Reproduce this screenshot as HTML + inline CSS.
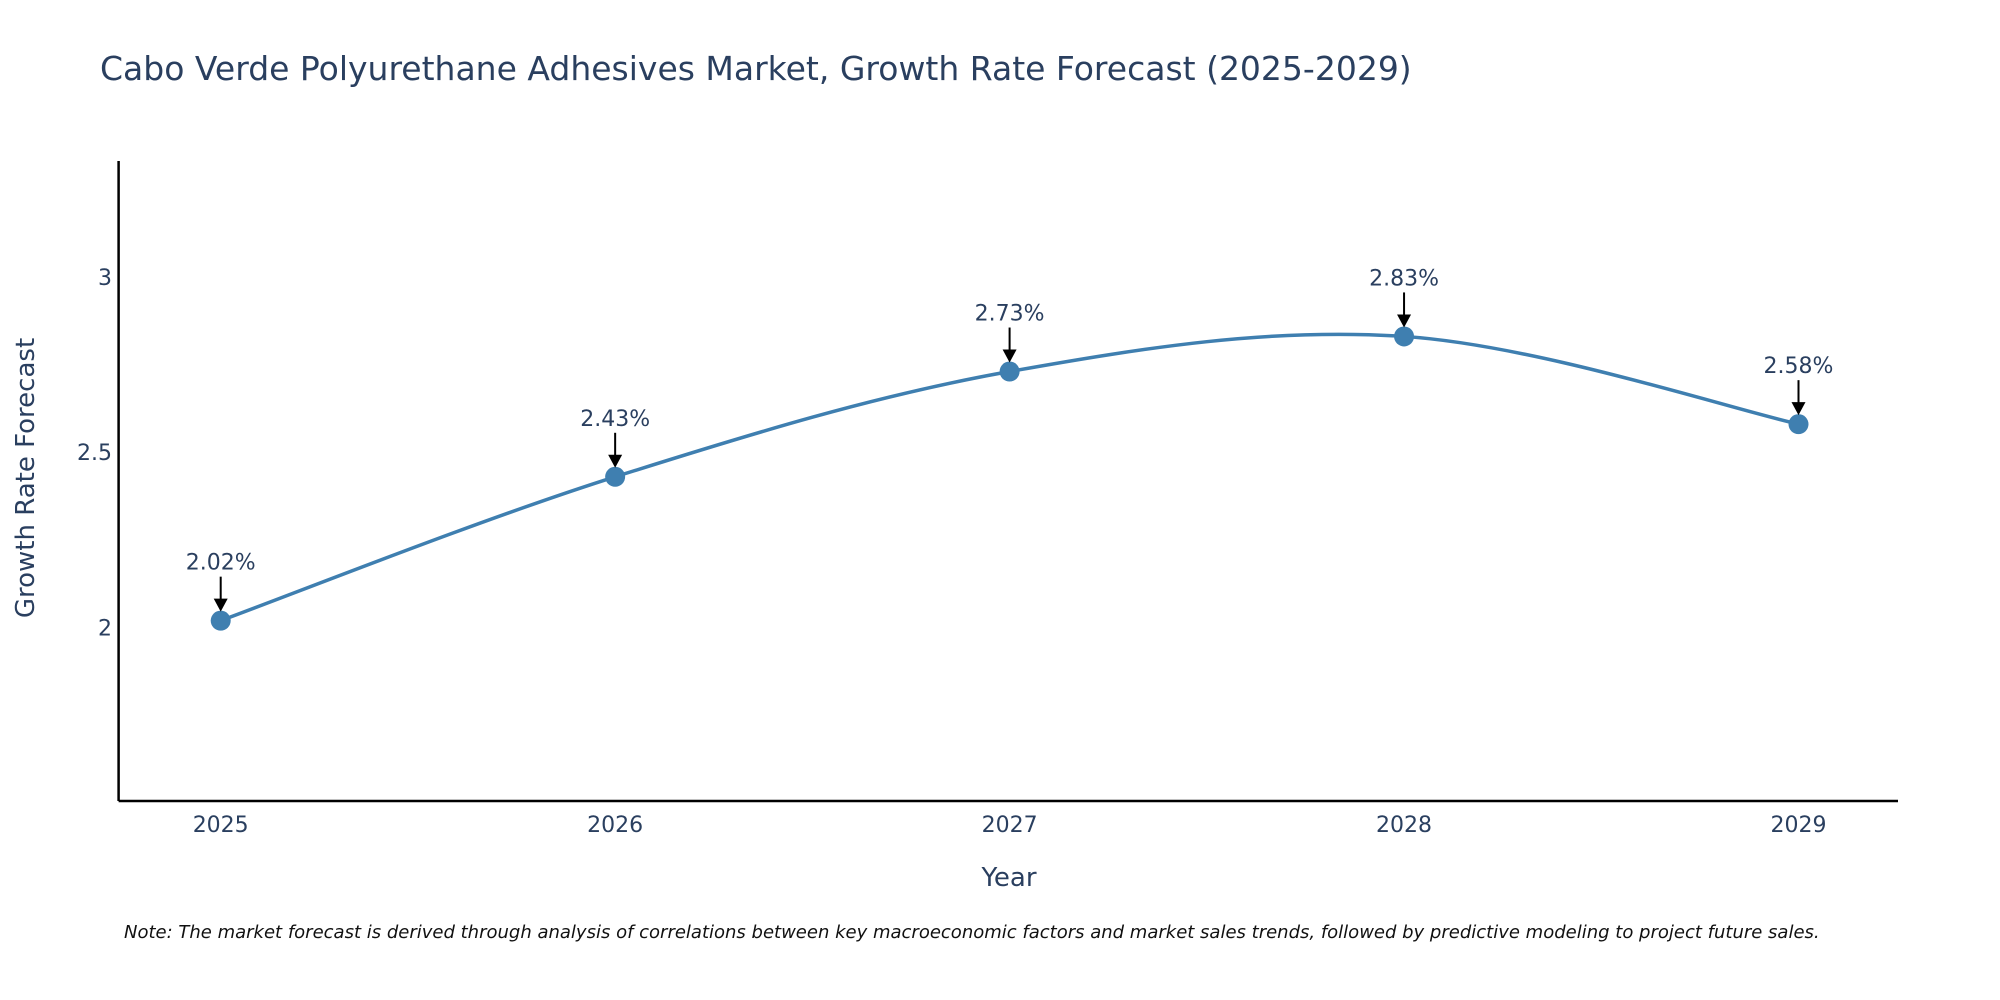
<!DOCTYPE html>
<html><head><meta charset="utf-8"><style>
body{margin:0;background:#fff;}
svg{display:block;font-family:"DejaVu Sans","Liberation Sans",sans-serif;}
</style></head><body>
<svg id="chart" width="2000" height="1000" viewBox="0 0 2000 1000">
<text x="100" y="80" font-size="33" fill="#2a3f5f">Cabo Verde Polyurethane Adhesives Market, Growth Rate Forecast (2025-2029)</text>
<g id="axes"></g>
<g id="plot"></g>
<text x="1009" y="886" font-size="26" fill="#2a3f5f" text-anchor="middle">Year</text>
<text transform="translate(34,478) rotate(-90)" font-size="26" fill="#2a3f5f" text-anchor="middle">Growth Rate Forecast</text>
<text x="124" y="938" font-size="18" font-style="italic" fill="#111">Note: The market forecast is derived through analysis of correlations between key macroeconomic factors and market sales trends, followed by predictive modeling to project future sales.</text>
</svg>
<script>
const years=["2025","2026","2027","2028","2029"];
const rates=[2.02,2.43,2.73,2.83,2.58];
const yTicks=[2,2.5,3];
const NS="http://www.w3.org/2000/svg";
const L=118.6,R=1898,T=161,B=801,X0=220.7,X1=1798.5,YMIN=1.506,YMAX=3.33;
const xs=i=>X0+(X1-X0)*i/(years.length-1);
const ys=v=>B-(v-YMIN)/(YMAX-YMIN)*(B-T);
function mk(tag,attrs,parent){const e=document.createElementNS(NS,tag);for(const k in attrs)e.setAttribute(k,attrs[k]);parent.appendChild(e);return e;}
const axes=document.getElementById('axes'),plot=document.getElementById('plot');
let a=mk('line',{x1:L,y1:T,x2:L,y2:B,stroke:'#000','stroke-width':2.5},axes);


a=mk('line',{x1:L,y1:B,x2:R,y2:B,stroke:'#000','stroke-width':2.5},axes);


yTicks.forEach(v=>{const t=mk('text',{x:112,y:ys(v)+8,'font-size':22,fill:'#2a3f5f','text-anchor':'end'},axes);t.textContent=String(v);

});
years.forEach((y,i)=>{const t=mk('text',{x:xs(i),y:832,'font-size':22,fill:'#2a3f5f','text-anchor':'middle'},axes);t.textContent=y;

});
const pts=rates.map((v,i)=>[xs(i),ys(v)]);
let d='M'+pts[0][0]+','+pts[0][1];const s=0.17;
for(let i=0;i<pts.length-1;i++){const p0=pts[Math.max(0,i-1)],p1=pts[i],p2=pts[i+1],p3=pts[Math.min(pts.length-1,i+2)];
const c1=[p1[0]+(p2[0]-p0[0])*s,p1[1]+(p2[1]-p0[1])*s],c2=[p2[0]-(p3[0]-p1[0])*s,p2[1]-(p3[1]-p1[1])*s];
d+=` C${c1[0]},${c1[1]} ${c2[0]},${c2[1]} ${p2[0]},${p2[1]}`;}
const line=mk('path',{d:d,fill:'none',stroke:'#3f7fb0','stroke-width':3.5},plot);


pts.forEach((p,i)=>{const c=mk('circle',{cx:p[0],cy:p[1],r:10,fill:'#3f7fb0'},plot);


const ar=mk('line',{x1:p[0],y1:p[1]-44,x2:p[0],y2:p[1]-20,stroke:'#000','stroke-width':2},plot);


const hd=mk('polygon',{points:`${p[0]-7},${p[1]-22} ${p[0]+7},${p[1]-22} ${p[0]},${p[1]-9}`,fill:'#000'},plot);


const t=mk('text',{x:p[0],y:p[1]-51,'font-size':22,fill:'#2a3f5f','text-anchor':'middle'},plot);
t.textContent=rates[i].toFixed(2)+'%';

});
</script>
</body></html>
